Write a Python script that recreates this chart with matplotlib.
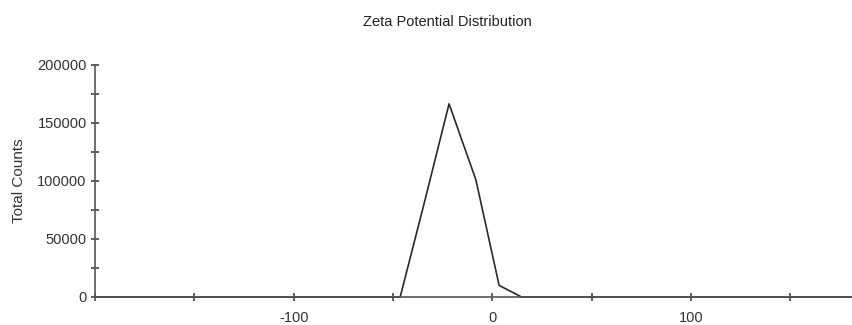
import matplotlib.pyplot as plt
from matplotlib.ticker import MultipleLocator, FixedLocator

plt.rcParams['font.family'] = ['Liberation Sans', 'DejaVu Sans']
plt.rcParams['axes.unicode_minus'] = False

# Zeta potential (mV) and total counts
zeta = [-200, -46.4, -34.0, -21.8, -8.3, 3.4, 14.7, 181]
counts = [0, 0, 83000, 166500, 101000, 10000, 0, 0]

x_labels = [-100, 0, 100]
y_labels = [0, 50000, 100000, 150000, 200000]

fig = plt.figure(figsize=(8.52, 3.25), dpi=100)
ax = fig.add_axes([95 / 852, 28 / 325, 1 - 95 / 852, 232 / 325])

ax.plot(zeta, counts, color='#2a2a2a', linewidth=1.2, clip_on=False)

ax.set_xlim(-200, 181)
ax.set_ylim(0, 200000)

ax.xaxis.set_major_locator(FixedLocator(x_labels))
ax.xaxis.set_minor_locator(MultipleLocator(50))
ax.yaxis.set_major_locator(FixedLocator(y_labels))
ax.yaxis.set_minor_locator(MultipleLocator(25000))

for s in ['top', 'right']:
    ax.spines[s].set_visible(False)
for s in ['left', 'bottom']:
    ax.spines[s].set_color('#555555')
    ax.spines[s].set_linewidth(1.2)

ax.tick_params(which='both', direction='inout', length=6, width=1.2,
               color='#444444', labelsize=10.5, labelcolor='#333333')
ax.tick_params(axis='x', pad=7)
ax.tick_params(axis='y', pad=3)

ax.set_ylabel('Total Counts', fontsize=11, color='#333333')
ax.yaxis.set_label_coords(-(95 - 26) / 757, 0.5)
fig.text(447 / 852, 1 - 22 / 325, 'Zeta Potential Distribution',
         ha='center', va='center', fontsize=10.5, color='#222222')

fig.savefig('out.png', dpi=100, facecolor='white')
